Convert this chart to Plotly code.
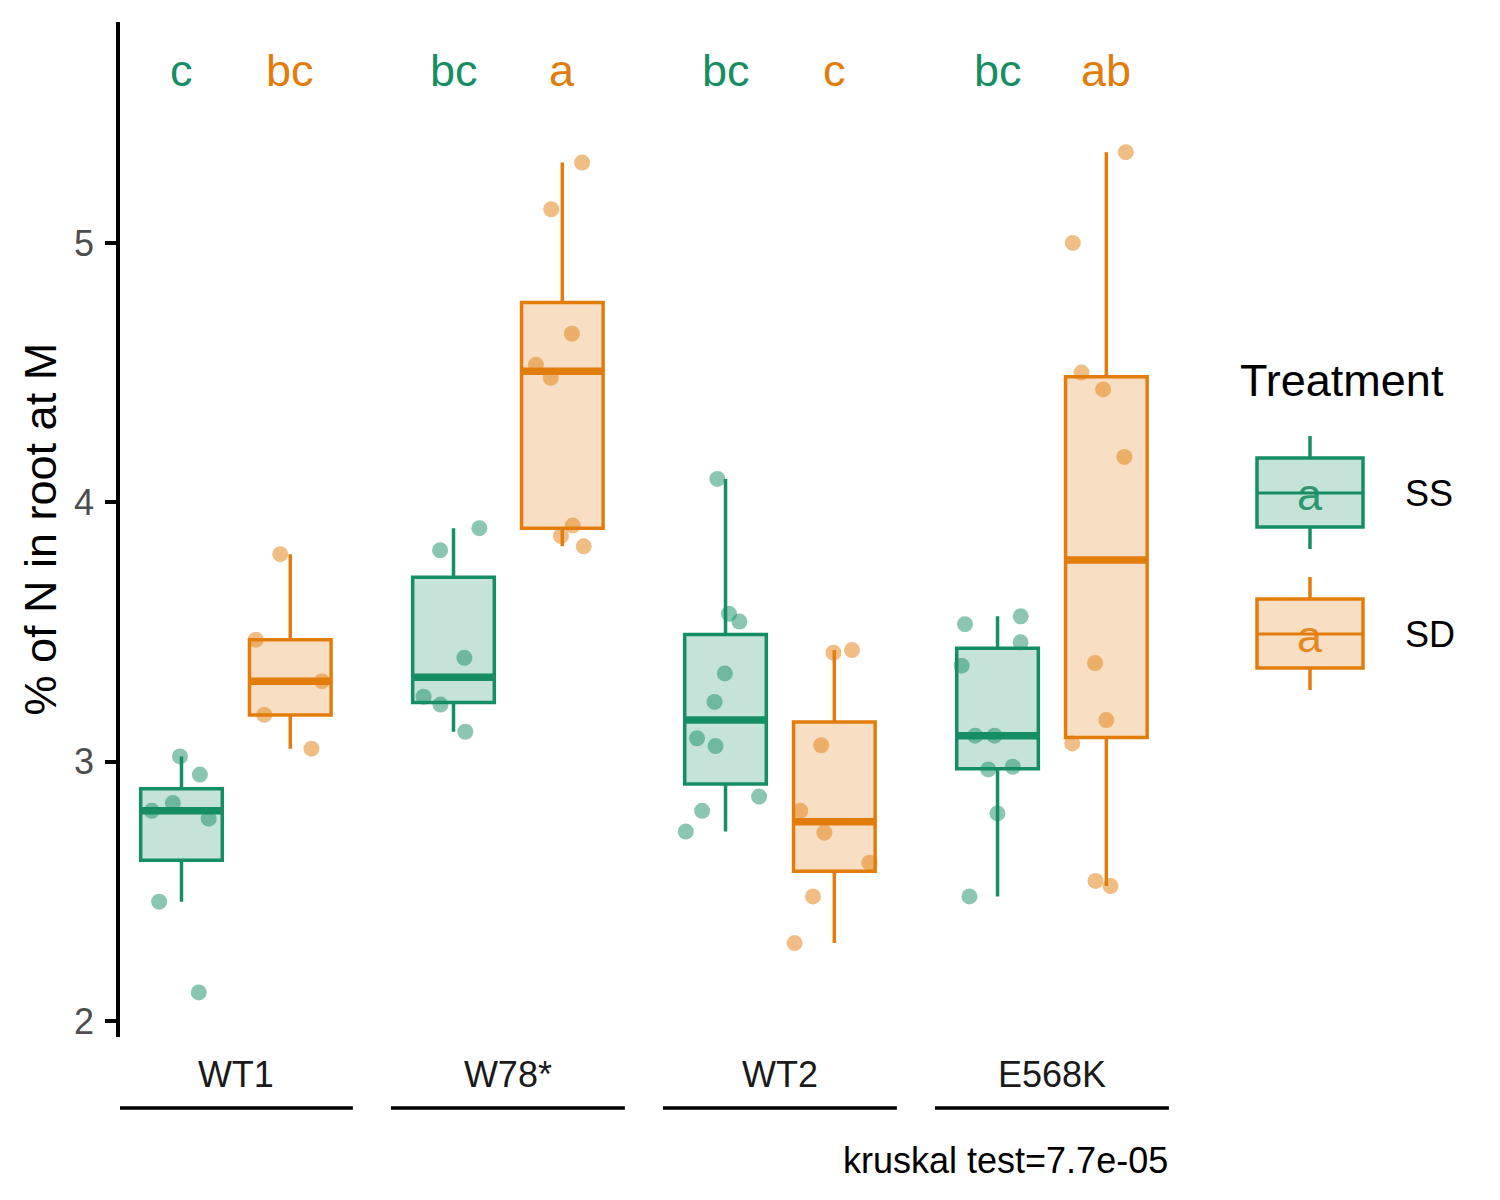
import numpy as np
import plotly.graph_objects as go

# ---------------- data ----------------
genotypes = ["WT1", "W78*", "WT2", "E568K"]
treatments = ["SS", "SD"]

wt1_ss = [3.02, 2.95, 2.84, 2.81, 2.78, 2.46, 2.11]
wt1_sd = [3.80, 3.47, 3.31, 3.18, 3.05]
w78_ss = [3.90, 3.815, 3.40, 3.25, 3.22, 3.115]
w78_sd = [5.31, 5.13, 4.65, 4.53, 4.48, 3.91, 3.87, 3.83]
wt2_ss = [4.09, 3.57, 3.54, 3.34, 3.23, 3.09, 3.06, 2.865, 2.81, 2.73]
wt2_sd = [3.42, 3.43, 3.063, 2.81, 2.726, 2.61, 2.48, 2.30]
e568k_ss = [3.56, 3.53, 3.46, 3.37, 3.10, 3.10, 2.98, 2.97, 2.80, 2.48]
e568k_sd = [5.35, 5.00, 4.50, 4.435, 4.175, 3.38, 3.16, 3.07, 2.54, 2.52]

ss_letters = ["c", "bc", "bc", "bc"]
sd_letters = ["bc", "a", "c", "ab"]
letter_y = 5.665

caption = "kruskal test=7.7e-05"
y_title = "% of N in root at M"
legend_title = "Treatment"
y_ticks = [2, 3, 4, 5]

ss_groups = [wt1_ss, w78_ss, wt2_ss, e568k_ss]
sd_groups = [wt1_sd, w78_sd, wt2_sd, e568k_sd]

# ---------------- styles ----------------
GREEN = (22, 142, 100)
ORANGE = (226, 125, 12)


def rgba(c, a):
    return f"rgba({c[0]},{c[1]},{c[2]},{a})"


FONT = "Liberation Sans, Arial, sans-serif"
OFF = 8                       # page body margin
W, H = 1500 - 2 * OFF, 1200 - 2 * OFF
L, R, T, B = 120, 1170, 22, 1037   # plot area, in screen pixels


def px(x):
    return (x - L) / (R - L)


def py(y):
    return (B - y) / (B - T)


def box_stats(vals):
    v = np.asarray(vals, dtype=float)
    q1, med, q3 = np.percentile(v, [25, 50, 75])
    iqr = q3 - q1
    lo = v[v >= q1 - 1.5 * iqr].min()
    hi = v[v <= q3 + 1.5 * iqr].max()
    return q1, med, q3, lo, hi


fig = go.Figure()

for name, groups, col in [("SS", ss_groups, GREEN), ("SD", sd_groups, ORANGE)]:
    stats = [box_stats(g) for g in groups]
    # box (ggplot-style quartiles / whiskers)
    fig.add_trace(go.Box(
        x=genotypes, name=name, offsetgroup=name,
        q1=[s[0] for s in stats], median=[s[1] for s in stats],
        q3=[s[2] for s in stats], lowerfence=[s[3] for s in stats],
        upperfence=[s[4] for s in stats],
        fillcolor=rgba(col, 0.25),
        line=dict(color=rgba(col, 1), width=3.5),
        whiskerwidth=0, boxpoints=False,
        showlegend=False, hoverinfo="skip",
    ))
    # jittered raw points
    xs, ys = [], []
    for g, vals in zip(genotypes, groups):
        xs += [g] * len(vals)
        ys += vals
    fig.add_trace(go.Box(
        x=xs, y=ys, name=name, offsetgroup=name,
        boxpoints="all", jitter=1.0, pointpos=0,
        fillcolor="rgba(0,0,0,0)",
        line=dict(color="rgba(0,0,0,0)", width=0),
        whiskerwidth=0,
        marker=dict(color=rgba(col, 0.5), size=16, line=dict(width=0)),
        showlegend=False, hoverinfo="y",
    ))

shapes = []
annotations = []
offsets = {"SS": -0.2, "SD": 0.2}
half_w = 0.15

for i, g in enumerate(genotypes):
    for name, groups, letters, col in [("SS", ss_groups, ss_letters, GREEN),
                                       ("SD", sd_groups, sd_letters, ORANGE)]:
        xc = i + offsets[name]
        med = float(np.median(groups[i]))
        shapes.append(dict(type="line", xref="x", yref="y",
                           x0=xc - half_w, x1=xc + half_w, y0=med, y1=med,
                           line=dict(color=rgba(col, 1), width=7.5), layer="below"))
        annotations.append(dict(x=xc, y=letter_y, xref="x", yref="y",
                                text=letters[i], showarrow=False,
                                font=dict(family=FONT, size=45, color=rgba(col, 1)),
                                xanchor="center", yanchor="middle"))
    shapes.append(dict(type="line", xref="x", yref="paper",
                       x0=i - 0.43, x1=i + 0.43, y0=py(1108), y1=py(1108),
                       line=dict(color="black", width=3.5)))

annotations.append(dict(x=px(40), y=0.5, xref="paper", yref="paper",
                        text=y_title, textangle=-90, showarrow=False,
                        font=dict(family=FONT, size=45, color="black"),
                        xanchor="center", yanchor="middle"))
annotations.append(dict(x=px(1170), y=py(1160), xref="paper", yref="paper",
                        text=caption, showarrow=False,
                        font=dict(family=FONT, size=36, color="black"),
                        xanchor="right", yanchor="middle"))

# ---------------- legend (manual) ----------------
annotations.append(dict(x=px(1238), y=py(380), xref="paper", yref="paper",
                        text=legend_title, showarrow=False,
                        font=dict(family=FONT, size=45, color="black"),
                        xanchor="left", yanchor="middle"))
for k, (name, col) in enumerate([("SS", GREEN), ("SD", ORANGE)]):
    dy = k * 141
    top, bot, med = 458 + dy, 527 + dy, 493 + dy
    wt, wb = 436 + dy, 549 + dy
    xl, xr, xm = 1257, 1363, 1310
    shapes.append(dict(type="line", xref="paper", yref="paper",
                       x0=px(xm), x1=px(xm), y0=py(wt), y1=py(top),
                       line=dict(color=rgba(col, 1), width=3.5)))
    shapes.append(dict(type="line", xref="paper", yref="paper",
                       x0=px(xm), x1=px(xm), y0=py(bot), y1=py(wb),
                       line=dict(color=rgba(col, 1), width=3.5)))
    shapes.append(dict(type="rect", xref="paper", yref="paper",
                       x0=px(xl), x1=px(xr), y0=py(bot), y1=py(top),
                       fillcolor=rgba(col, 0.25),
                       line=dict(color=rgba(col, 1), width=3.5)))
    shapes.append(dict(type="line", xref="paper", yref="paper",
                       x0=px(xl), x1=px(xr), y0=py(med), y1=py(med),
                       line=dict(color=rgba(col, 1), width=3)))
    annotations.append(dict(x=px(xm), y=py(med + 2), xref="paper", yref="paper",
                            text="a", showarrow=False,
                            font=dict(family=FONT, size=45, color=rgba(col, 0.9)),
                            xanchor="center", yanchor="middle"))
    annotations.append(dict(x=px(1403), y=py(med), xref="paper", yref="paper",
                            text=name, showarrow=False,
                            font=dict(family=FONT, size=36, color="black"),
                            xanchor="left", yanchor="middle"))

fig.update_layout(
    width=W, height=H,
    margin=dict(l=L - OFF, r=W - (R - OFF), t=T - OFF, b=H - (B - OFF), pad=0),
    paper_bgcolor="white", plot_bgcolor="white",
    boxmode="group", boxgap=0.2, boxgroupgap=0.25,
    showlegend=False,
    shapes=shapes, annotations=annotations,
    font=dict(family=FONT),
)
fig.update_xaxes(
    type="category", categoryorder="array", categoryarray=genotypes,
    range=[-0.426, 3.434], showline=False, ticks="", showgrid=False,
    zeroline=False, tickfont=dict(family=FONT, size=36, color="#1A1A1A"),
    ticklabelstandoff=13,
)
fig.update_yaxes(
    range=[1.938, 5.852], tickvals=y_ticks, ticks="outside", ticklen=11,
    tickwidth=3.5, tickcolor="black", showline=True, linewidth=3.5,
    linecolor="black", showgrid=False, zeroline=False,
    tickfont=dict(family=FONT, size=36, color="#4D4D4D"),
    ticklabelstandoff=4,
)

fig.write_html("out.html")
